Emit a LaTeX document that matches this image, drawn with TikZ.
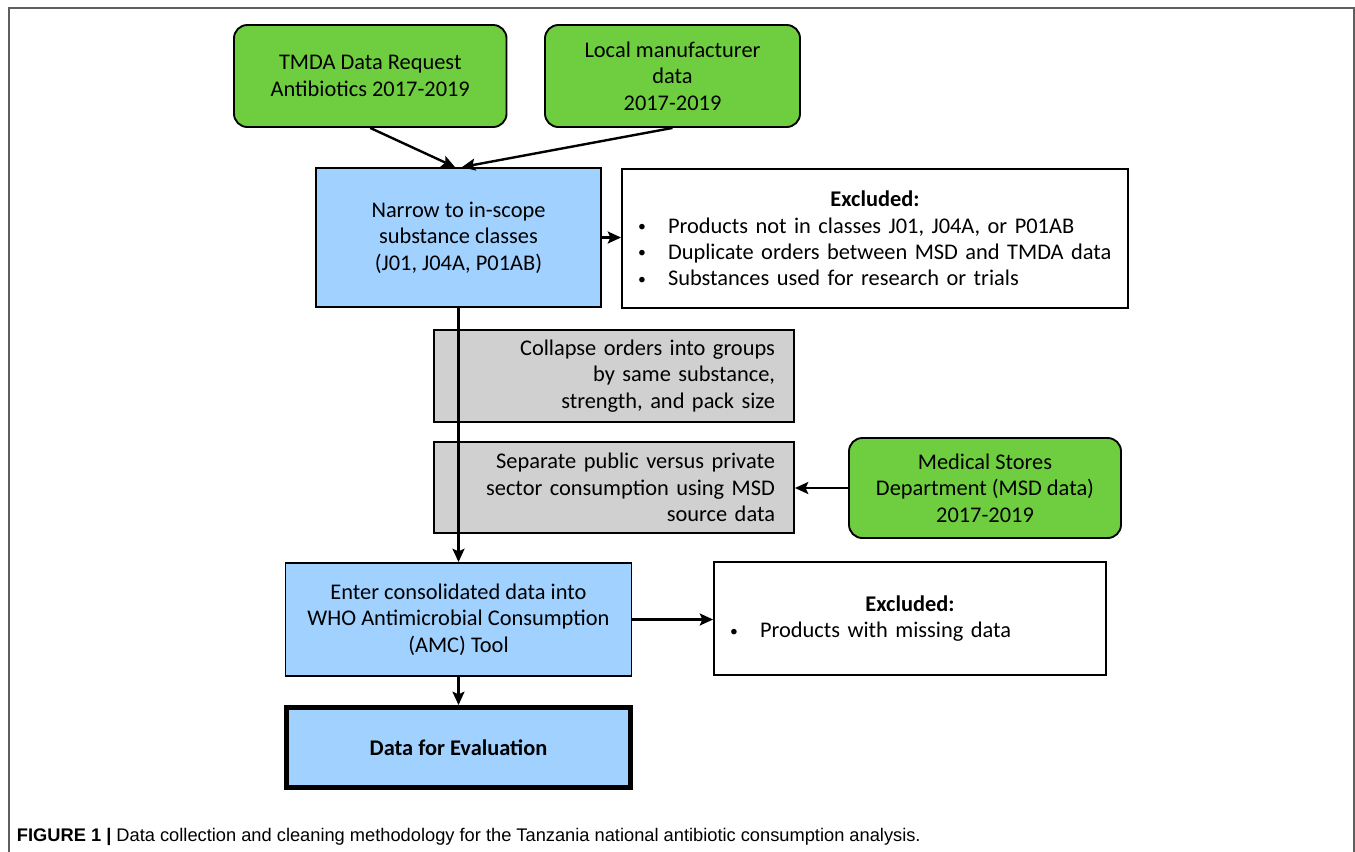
\documentclass[tikz,border=0pt]{standalone}
\usepackage{fontspec}
\setmainfont{Carlito}
\newfontfamily\capfont{Liberation Sans}
\usetikzlibrary{arrows.meta}
\definecolor{grn}{RGB}{110,206,64}
\definecolor{blu}{RGB}{161,209,255}
\definecolor{gry}{RGB}{208,208,208}
\definecolor{frm}{RGB}{95,95,95}
\newcommand{\bul}{\makebox[22.5pt][l]{\raisebox{0.15ex}{\scalebox{0.7}{\textbullet}}}}
\tikzset{
  base/.style={draw=black, line width=1.4pt, inner sep=0pt, font=\fontsize{16.8}{19.8}\selectfont, align=center},
  srcbox/.style={base, fill=grn, rounded corners=10pt},
  bluebox/.style={base, fill=blu},
  graybox/.style={base, fill=gry, align=right, inner xsep=14.25pt, text width=241.5pt},
  exbox/.style={base, fill=white, align=left, inner xsep=12pt},
  finalbox/.style={base, fill=blu, line width=3.75pt},
  arr/.style={line width=1.8pt, -{Stealth[length=10pt,width=9pt,inset=2pt]}}
}
\begin{document}
\begin{tikzpicture}[x=0.75pt,y=-0.75pt]
\useasboundingbox (0,0) rectangle (1355,851);
\draw[frm, line width=1.5pt] (9,852) -- (9,8) -- (1354,8) -- (1354,852);

\node[srcbox, minimum width=204.4pt, minimum height=76.5pt] (tmda) at (370.25,76) {TMDA Data Request\\Antibiotics 2017-2019};
\node[srcbox, minimum width=191.25pt, minimum height=76.5pt] (local) at (672.5,76) {Local manufacturer\\data\\2017-2019};
\node[bluebox, minimum width=213.75pt, minimum height=104.25pt] (narrow) at (458.5,237.5) {Narrow to in-scope\\substance classes\\(J01, J04A, P01AB)};
\node[exbox, text width=355.5pt, minimum height=104.25pt] (ex1) at (875,238.5) {\makebox[355.5pt]{\bfseries Excluded:}\\\bul Products not in classes J01, J04A, or P01AB\\\bul Duplicate orders between MSD and TMDA data\\\bul Substances used for research or trials};
\node[graybox, minimum height=69pt] (collapse) at (614,376) {Collapse orders into groups\\by same substance,\\strength, and pack size};
\node[graybox, minimum height=68.25pt] (separate) at (614,487.5) {Separate public versus private\\sector consumption using MSD\\source data};
\node[srcbox, minimum width=204pt, minimum height=75pt] (msd) at (985,488) {Medical Stores\\Department (MSD data)\\2017-2019};
\node[bluebox, minimum width=259.5pt, minimum height=84.75pt] (enter) at (458.5,619.5) {Enter consolidated data into\\WHO Antimicrobial Consumption\\(AMC) Tool};
\node[exbox, text width=270pt, minimum height=84.75pt] (ex2) at (910,618.5) {\makebox[270pt]{\bfseries Excluded:}\\\bul Products with missing data};
\node[finalbox, minimum width=258pt, minimum height=60pt] (data) at (458.5,747.5) {\bfseries Data for Evaluation};

\node[anchor=base west, inner sep=0pt, font=\capfont\fontsize{13.7}{15}\selectfont] (cap) at (16.7,841) {\textbf{FIGURE 1 |} Data collection and cleaning methodology for the Tanzania national antibiotic consumption analysis.};

\draw[arr] (tmda.south) -- ([xshift=-2.6pt]narrow.north);
\draw[arr] (local.south) -- ([xshift=2.6pt]narrow.north);
\draw[arr] (narrow.east) -- (narrow.east -| ex1.west);
\draw[arr] (narrow.south) -- (enter.north);
\draw[arr] (msd.west) -- (msd.west -| separate.east);
\draw[arr] (enter.east) -- (enter.east -| ex2.west);
\draw[arr] (enter.south) -- (data.north);
\end{tikzpicture}
\end{document}
